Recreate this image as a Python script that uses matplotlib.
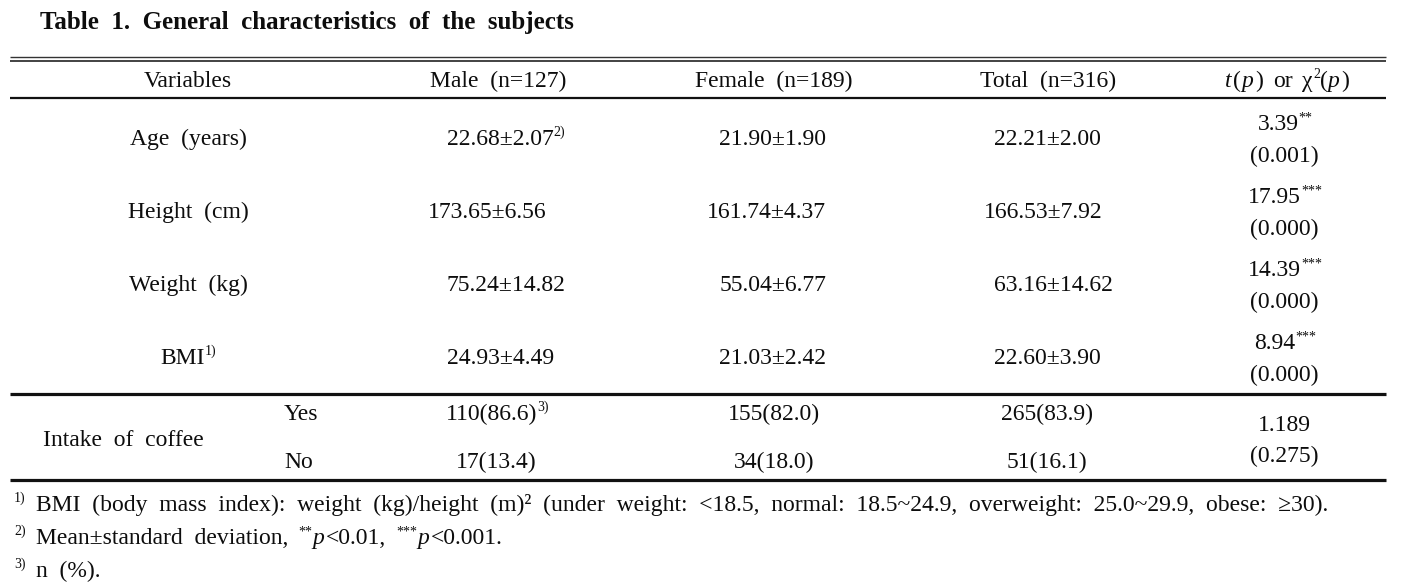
import matplotlib
matplotlib.use("Agg")
import matplotlib.pyplot as plt

# ---------------- data ----------------
title = "Table  1.  General  characteristics  of  the  subjects"
col_headers = ["Variables", "Male  (n=127)", "Female  (n=189)", "Total  (n=316)"]
variables = ["Age  (years)", "Height  (cm)", "Weight  (kg)", "BMI"]
male = ["22.68±2.07", "173.65±6.56", "75.24±14.82", "24.93±4.49"]
female = ["21.90±1.90", "161.74±4.37", "55.04±6.77", "21.03±2.42"]
total = ["22.21±2.00", "166.53±7.92", "63.16±14.62", "22.60±3.90"]
stat_vals = ["3.39", "17.95", "14.39", "8.94"]
stat_stars = ["**", "***", "***", "***"]
p_vals = ["(0.001)", "(0.000)", "(0.000)", "(0.000)"]

coffee_label = "Intake  of  coffee"
coffee_levels = ["Yes", "No"]
coffee_male = ["110(86.6)", "17(13.4)"]
coffee_female = ["155(82.0)", "34(18.0)"]
coffee_total = ["265(83.9)", "51(16.1)"]
coffee_stat = "1.189"
coffee_p = "(0.275)"

footnote1 = ("BMI  (body  mass  index):  weight  (kg)/height  (m)²  (under  weight:  <18.5,  "
             "normal:  18.5~24.9,  overweight:  25.0~29.9,  obese:  ≥30).")
footnote3 = "n  (%)."

# ---------------- figure ----------------
W, H = 1406, 587
fig = plt.figure(figsize=(W / 100, H / 100), dpi=100)
ax = fig.add_axes([0, 0, 1, 1])
ax.set_xlim(0, W)
ax.set_ylim(H, 0)
ax.axis("off")

FONT = ["Liberation Serif", "DejaVu Serif"]
FS = 17
SUP = 10
COLOR = "#0d0d0d"
renderer = fig.canvas.get_renderer()
PX = 100 / 72


def rich(x, yc, segs, ha="left", size=FS):
    arts, widths = [], []
    for s, kind in segs:
        if kind == "gap":
            arts.append((None, kind))
            widths.append(s)
            continue
        fs = SUP if kind == "sup" else size
        t = ax.text(0, 0, s, fontsize=fs, family=FONT,
                    fontstyle="italic" if kind == "i" else "normal",
                    fontweight="bold" if kind == "b" else "normal",
                    color=COLOR, va="baseline", ha="left")
        arts.append((t, kind))
        widths.append(t.get_window_extent(renderer).width)
    tot = sum(widths)
    x0 = x - tot / 2 if ha == "center" else (x - tot if ha == "right" else x)
    base = yc + size * PX * 0.662 / 2
    cx = x0
    for (t, kind), w in zip(arts, widths):
        if t is not None:
            yy = base - (size * PX * 0.36 if kind == "sup" else 0)
            t.set_position((cx, yy))
            if kind == "i":
                cx += 1
        cx += w
        if kind == "i":
            cx += 1


def plain(x, yc, s, ha="center", size=FS, weight="normal"):
    rich(x, yc, [(s, "b" if weight == "bold" else "n")], ha=ha, size=size)


GAP = 10

# title
plain(40, 21, title, ha="left", size=18, weight="bold")

# rules
X0, X1 = 10, 1386
ax.hlines(57, X0, X1, color="#333333", lw=1.0)
ax.hlines(61, X0, X1, color="#222222", lw=1.2)
ax.hlines(98, X0, X1, color="#111111", lw=1.6)
ax.hlines(394, X0, X1, color="#111111", lw=2.3)
ax.hlines(480, X0, X1, color="#111111", lw=2.3)

# header
col_x = [188, 498, 774, 1048, 1284]
hy = 79
for cx, h in zip(col_x[:4], col_headers):
    plain(cx, hy, h)
rich(col_x[4], hy, [("t", "i"), ("(", "n"), ("p", "i"), (")", "n"), (GAP, "gap"),
                    ("or", "n"), (GAP, "gap"), ("χ", "n"), ("2", "sup"), ("(", "n"),
                    ("p", "i"), (")", "n")], ha="center")

# body rows
row_y = [137, 210, 283, 356]
male_x = [447, 428, 447, 447]
female_right = 826
total_x = [994, 984, 994, 994]
for i, yc in enumerate(row_y):
    if i == 3:
        rich(col_x[0], yc, [(variables[i], "n"), ("1)", "sup")], ha="center")
    else:
        plain(col_x[0], yc, variables[i])
    if i == 0:
        rich(male_x[i], yc, [(male[i], "n"), ("2)", "sup")], ha="left")
    else:
        plain(male_x[i], yc, male[i], ha="left")
    plain(female_right, yc, female[i], ha="right")
    plain(total_x[i], yc, total[i], ha="left")
    rich(col_x[4] + 1, yc - 15, [(stat_vals[i], "n"), (stat_stars[i], "sup")], ha="center")
    plain(col_x[4], yc + 17, p_vals[i])

# coffee rows
cof_y = [412, 460]
plain(43, 438, coffee_label, ha="left")
for j, yc in enumerate(cof_y):
    plain(284, yc, coffee_levels[j], ha="left")
    if j == 0:
        rich(497, yc, [(coffee_male[j], "n"), ("3)", "sup")], ha="center")
    else:
        plain(496, yc, coffee_male[j])
    plain(774, yc, coffee_female[j])
    plain(1047, yc, coffee_total[j])
plain(col_x[4], 423, coffee_stat)
plain(col_x[4], 454, coffee_p)

# footnotes
fy = [503, 536, 569]
rich(14, fy[0], [("1)", "sup")])
plain(36, fy[0], footnote1, ha="left")
rich(14, fy[1], [("2)", "sup")])
rich(36, fy[1], [("Mean±standard  deviation,", "n"), (GAP, "gap"), ("**", "sup"), ("p", "i"),
                 ("<0.01,", "n"), (GAP, "gap"), ("***", "sup"), ("p", "i"), ("<0.001.", "n")])
rich(14, fy[2], [("3)", "sup")])
plain(36, fy[2], footnote3, ha="left")

fig.savefig("out.png", dpi=100, facecolor="white")
